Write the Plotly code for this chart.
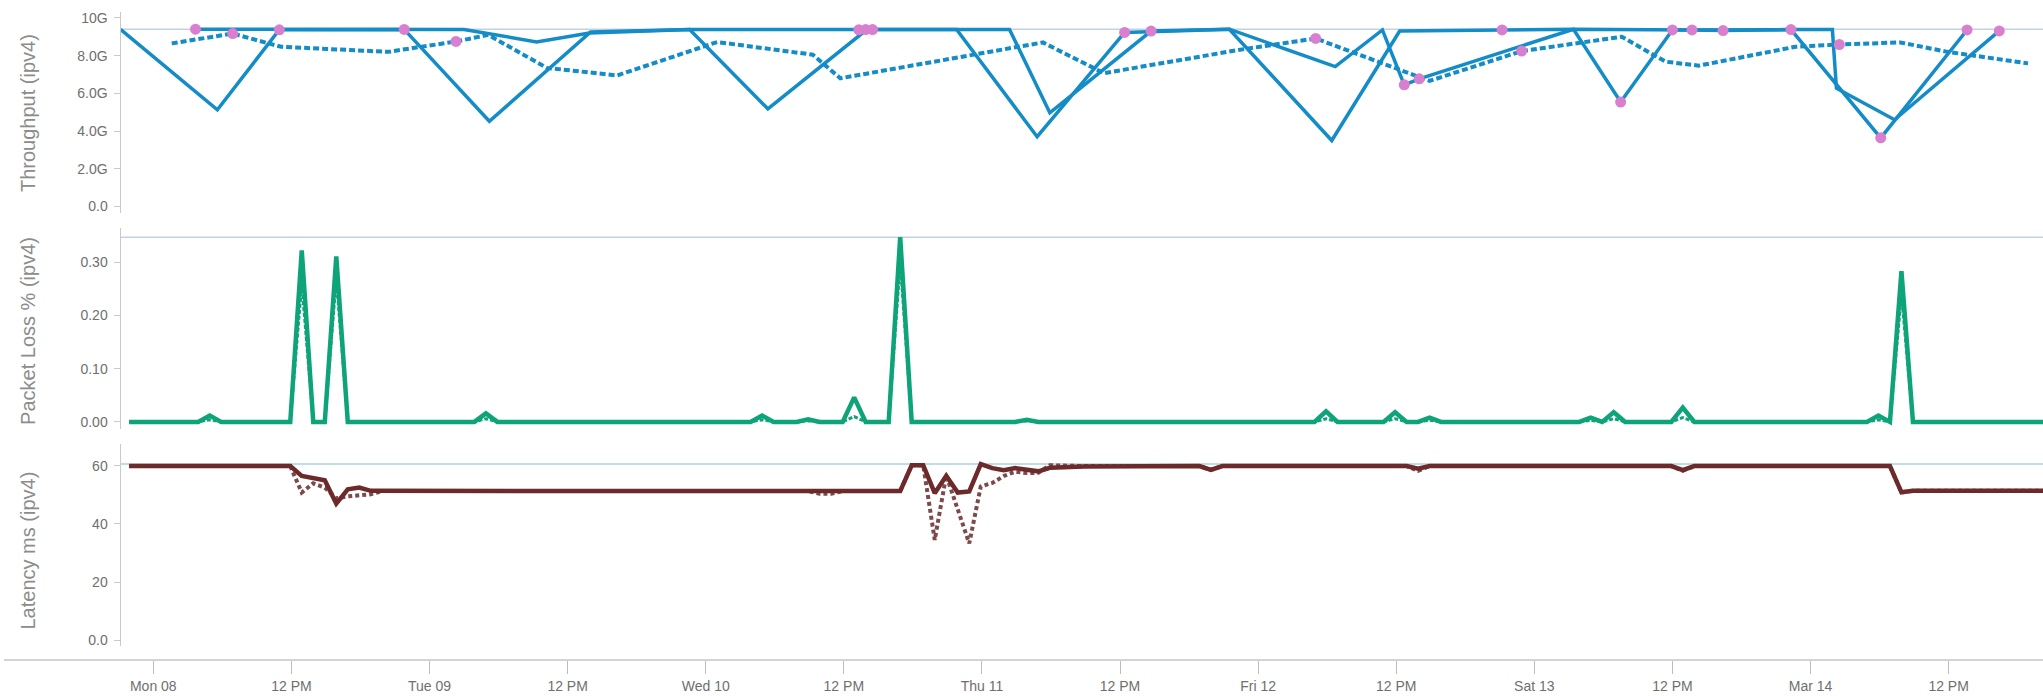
import plotly.graph_objects as go

W, H = 2043, 696

# ---------------- data ----------------
# Throughput, solid series 1 (Gbps)
tp1_time = ["2021-03-07 21:09", "2021-03-08 05:34", "2021-03-08 10:57", "2021-03-08 21:48",
            "2021-03-09 05:12", "2021-03-09 14:00", "2021-03-09 22:36", "2021-03-10 05:24",
            "2021-03-10 14:00", "2021-03-10 21:48", "2021-03-11 04:48", "2021-03-11 12:24",
            "2021-03-11 21:30", "2021-03-12 06:24", "2021-03-12 12:18", "2021-03-12 21:12",
            "2021-03-13 03:24", "2021-03-13 07:30", "2021-03-13 12:00", "2021-03-13 22:18",
            "2021-03-14 06:06", "2021-03-14 13:36"]
tp1_gbps = [9.39, 5.13, 9.37, 9.39, 4.52, 9.25, 9.39, 5.18, 9.38, 9.39, 3.70, 9.23,
            9.40, 3.50, 9.30, 9.36, 9.40, 5.54, 9.36, 9.38, 3.64, 9.36]

# Throughput, solid series 2 (Gbps)
tp2_time = ["2021-03-08 03:40", "2021-03-08 21:48", "2021-03-09 03:00", "2021-03-09 09:18",
            "2021-03-09 13:54", "2021-03-09 22:36", "2021-03-10 14:00", "2021-03-11 02:24",
            "2021-03-11 05:54", "2021-03-11 14:42", "2021-03-11 21:30", "2021-03-12 06:42",
            "2021-03-12 10:48", "2021-03-12 12:42", "2021-03-12 14:00", "2021-03-13 03:24",
            "2021-03-13 13:42", "2021-03-13 16:24", "2021-03-13 22:18", "2021-03-14 01:54",
            "2021-03-14 02:15", "2021-03-14 07:18", "2021-03-14 16:24"]
tp2_gbps = [9.40, 9.39, 9.39, 8.73, 9.20, 9.38, 9.38, 9.39, 4.97, 9.30, 9.40, 7.42,
            9.36, 6.45, 6.77, 9.40, 9.36, 9.33, 9.38, 9.38, 6.27, 4.60, 9.31]

# Throughput, dotted series (Gbps)
tp3_time = ["2021-03-08 01:36", "2021-03-08 06:54", "2021-03-08 11:06", "2021-03-08 20:24",
            "2021-03-09 02:18", "2021-03-09 05:06", "2021-03-09 10:12", "2021-03-09 16:18",
            "2021-03-10 01:00", "2021-03-10 09:18", "2021-03-10 11:42", "2021-03-11 05:18",
            "2021-03-11 10:36", "2021-03-11 22:18", "2021-03-12 05:00", "2021-03-12 14:54",
            "2021-03-12 22:54", "2021-03-13 07:36", "2021-03-13 11:24", "2021-03-13 14:18",
            "2021-03-13 22:42", "2021-03-14 02:30", "2021-03-14 07:48", "2021-03-14 11:54",
            "2021-03-14 18:54"]
tp3_gbps = [8.65, 9.17, 8.47, 8.20, 8.75, 9.10, 7.35, 6.95, 8.72, 8.05, 6.80, 8.70,
            7.07, 8.30, 8.91, 6.66, 8.24, 9.00, 7.68, 7.47, 8.47, 8.59, 8.70, 8.20, 7.59]

# Flagged throughput results (pink markers)
flag_time = ["2021-03-08 03:40", "2021-03-08 06:54", "2021-03-08 10:57", "2021-03-08 21:48",
             "2021-03-09 02:18", "2021-03-10 13:18", "2021-03-10 13:54", "2021-03-10 14:30",
             "2021-03-11 12:24", "2021-03-11 14:42", "2021-03-12 05:00", "2021-03-12 12:42",
             "2021-03-12 14:00", "2021-03-12 21:12", "2021-03-12 22:54", "2021-03-13 07:30",
             "2021-03-13 12:00", "2021-03-13 13:42", "2021-03-13 16:24", "2021-03-13 22:18",
             "2021-03-14 02:30", "2021-03-14 06:06", "2021-03-14 13:36", "2021-03-14 16:24"]
flag_gbps = [9.40, 9.17, 9.37, 9.39, 8.75, 9.37, 9.38, 9.38, 9.23, 9.30, 8.91, 6.45,
             6.77, 9.36, 8.24, 5.54, 9.36, 9.36, 9.33, 9.38, 8.59, 3.64, 9.36, 9.31]
tp_max = 9.40

# Packet loss % (solid and dotted)
pl_time = ["2021-03-07 21:54", "2021-03-08 03:54", "2021-03-08 04:54", "2021-03-08 05:54",
           "2021-03-08 11:54", "2021-03-08 12:54", "2021-03-08 13:54", "2021-03-08 14:54",
           "2021-03-08 15:54", "2021-03-08 16:54", "2021-03-09 03:54", "2021-03-09 04:54",
           "2021-03-09 05:54", "2021-03-10 03:54", "2021-03-10 04:54", "2021-03-10 05:54",
           "2021-03-10 07:54", "2021-03-10 08:54", "2021-03-10 09:54", "2021-03-10 11:54",
           "2021-03-10 12:54", "2021-03-10 13:54", "2021-03-10 15:54", "2021-03-10 16:54",
           "2021-03-10 17:54", "2021-03-11 02:54", "2021-03-11 03:54", "2021-03-11 04:54",
           "2021-03-12 04:54", "2021-03-12 05:54", "2021-03-12 06:54", "2021-03-12 10:54",
           "2021-03-12 11:54", "2021-03-12 12:54", "2021-03-12 13:54", "2021-03-12 14:54",
           "2021-03-12 15:54", "2021-03-13 03:54", "2021-03-13 04:54", "2021-03-13 05:54",
           "2021-03-13 06:54", "2021-03-13 07:54", "2021-03-13 11:54", "2021-03-13 12:54",
           "2021-03-13 13:54", "2021-03-14 04:54", "2021-03-14 05:54", "2021-03-14 06:54",
           "2021-03-14 07:54", "2021-03-14 08:54", "2021-03-14 20:30"]
pl_solid = [0, 0, 0.012, 0, 0, 0.322, 0, 0, 0.311, 0, 0, 0.016, 0, 0, 0.012, 0, 0, 0.005, 0,
            0, 0.046, 0, 0, 0.347, 0, 0, 0.004, 0, 0, 0.020, 0, 0, 0.018, 0, 0, 0.008, 0,
            0, 0.008, 0, 0.018, 0, 0, 0.027, 0, 0, 0.012, 0, 0.283, 0, 0]
pl_dotted = [0, 0, 0.004, 0, 0, 0.26, 0, 0, 0.27, 0, 0, 0.006, 0, 0, 0.004, 0, 0, 0.002, 0,
             0, 0.010, 0, 0, 0.30, 0, 0, 0.002, 0, 0, 0.006, 0, 0, 0.006, 0, 0, 0.003, 0,
             0, 0.003, 0, 0.006, 0, 0, 0.008, 0, 0, 0.004, 0, 0.24, 0, 0]
pl_max = 0.347

# Latency ms (solid and dotted)
lat1_time = ["2021-03-07 21:54", "2021-03-08 11:54", "2021-03-08 12:54", "2021-03-08 13:54",
             "2021-03-08 14:54", "2021-03-08 15:54", "2021-03-08 16:54", "2021-03-08 17:54",
             "2021-03-08 18:54", "2021-03-10 16:54", "2021-03-10 17:54", "2021-03-10 18:54",
             "2021-03-10 19:54", "2021-03-10 20:54", "2021-03-10 21:54", "2021-03-10 22:54",
             "2021-03-10 23:54", "2021-03-11 00:54", "2021-03-11 01:54", "2021-03-11 02:54",
             "2021-03-11 03:54", "2021-03-11 04:54", "2021-03-11 05:54", "2021-03-11 08:54",
             "2021-03-11 18:54", "2021-03-11 19:54", "2021-03-11 20:54", "2021-03-12 12:54",
             "2021-03-12 13:54", "2021-03-12 14:54", "2021-03-13 11:54", "2021-03-13 12:54",
             "2021-03-13 13:54", "2021-03-14 06:54", "2021-03-14 07:54", "2021-03-14 08:54",
             "2021-03-14 20:30"]
lat1_ms = [59.9, 59.9, 56.5, 55.9, 55.0, 47.0, 51.9, 52.5, 51.4, 51.3, 60.2, 60.2,
           50.6, 56.6, 50.8, 51.2, 60.6, 59.2, 58.5, 59.2, 58.8, 58.1, 59.3, 59.8,
           59.9, 58.6, 59.9, 59.9, 59.0, 59.9, 59.9, 58.5, 59.9, 59.9, 50.9, 51.4, 51.4]

lat2_time = ["2021-03-07 21:54", "2021-03-08 11:54", "2021-03-08 12:54", "2021-03-08 13:54",
             "2021-03-08 14:54", "2021-03-08 15:54", "2021-03-08 16:54", "2021-03-08 17:54",
             "2021-03-08 18:54", "2021-03-08 19:54", "2021-03-10 08:54", "2021-03-10 09:54",
             "2021-03-10 10:54", "2021-03-10 11:54", "2021-03-10 16:54", "2021-03-10 17:54",
             "2021-03-10 18:54", "2021-03-10 19:54", "2021-03-10 20:54", "2021-03-10 22:54",
             "2021-03-10 23:54", "2021-03-11 00:54", "2021-03-11 01:54", "2021-03-11 02:54",
             "2021-03-11 03:54", "2021-03-11 04:54", "2021-03-11 05:54", "2021-03-11 08:54",
             "2021-03-11 18:54", "2021-03-11 19:54", "2021-03-11 20:54", "2021-03-12 12:54",
             "2021-03-12 13:54", "2021-03-12 14:54", "2021-03-13 11:54", "2021-03-13 12:54",
             "2021-03-13 13:54", "2021-03-14 06:54", "2021-03-14 07:54", "2021-03-14 08:54",
             "2021-03-14 20:30"]
lat2_ms = [59.9, 59.9, 50.8, 54.0, 52.5, 48.8, 49.5, 49.8, 50.2, 51.3, 51.3, 50.4,
           50.4, 51.3, 51.3, 60.2, 60.2, 34.5, 56.7, 33.3, 52.9, 54.1, 56.5, 58.0,
           57.5, 57.6, 60.2, 59.9, 59.9, 58.6, 59.9, 59.9, 58.3, 59.9, 59.9, 58.3,
           59.9, 59.9, 50.9, 51.4, 51.4]
lat_max = 60.6

# axes text
x_tickvals = ["2021-03-08 00:00", "2021-03-08 12:00", "2021-03-09 00:00", "2021-03-09 12:00",
              "2021-03-10 00:00", "2021-03-10 12:00", "2021-03-11 00:00", "2021-03-11 12:00",
              "2021-03-12 00:00", "2021-03-12 12:00", "2021-03-13 00:00", "2021-03-13 12:00",
              "2021-03-14 00:00", "2021-03-14 12:00"]
x_ticktext = ["Mon 08", "12 PM", "Tue 09", "12 PM", "Wed 10", "12 PM", "Thu 11", "12 PM",
              "Fri 12", "12 PM", "Sat 13", "12 PM", "Mar 14", "12 PM"]
tp_tickvals = [0, 2, 4, 6, 8, 10]
tp_ticktext = ["0.0", "2.0G", "4.0G", "6.0G", "8.0G", "10G"]
pl_tickvals = [0, 0.1, 0.2, 0.3]
pl_ticktext = ["0.00", "0.10", "0.20", "0.30"]
lat_tickvals = [0, 20, 40, 60]
lat_ticktext = ["0.0", "20", "40", "60"]
titles = ["Throughput (ipv4)", "Packet Loss % (ipv4)", "Latency ms (ipv4)"]
x_range = ["2021-03-07 21:09", "2021-03-14 20:12"]

# ---------------- styling ----------------
BLUE = "#138cc7"
PINK = "#d880cf"
GREEN = "#0ea47a"
MAROON = "#6d2a2b"
MAROON_D = "#7c4a4b"
FONT = "Liberation Sans"
TICKC = "#6f6f6f"
AXC = "#c9c9c9"


def py(px):
    return 1 - px / H


fig = go.Figure()

# throughput
fig.add_trace(go.Scatter(x=tp3_time, y=tp3_gbps, mode="lines", xaxis="x", yaxis="y",
                         line=dict(color=BLUE, width=4, dash="6px,3px")))
fig.add_trace(go.Scatter(x=tp1_time, y=tp1_gbps, mode="lines", xaxis="x", yaxis="y",
                         line=dict(color=BLUE, width=3.5)))
fig.add_trace(go.Scatter(x=tp2_time, y=tp2_gbps, mode="lines", xaxis="x", yaxis="y",
                         line=dict(color=BLUE, width=3.5)))
fig.add_trace(go.Scatter(x=flag_time, y=flag_gbps, mode="markers", xaxis="x", yaxis="y",
                         marker=dict(color=PINK, size=11, line=dict(width=0))))
# packet loss
fig.add_trace(go.Scatter(x=pl_time, y=pl_solid, mode="lines", xaxis="x2", yaxis="y2",
                         line=dict(color=GREEN, width=4.5)))
fig.add_trace(go.Scatter(x=pl_time, y=pl_dotted, mode="lines", xaxis="x2", yaxis="y2",
                         line=dict(color=GREEN, width=3, dash="4px,2px")))
# latency
fig.add_trace(go.Scatter(x=lat2_time, y=lat2_ms, mode="lines", xaxis="x3", yaxis="y3",
                         line=dict(color=MAROON_D, width=4, dash="4px,3px")))
fig.add_trace(go.Scatter(x=lat1_time, y=lat1_ms, mode="lines", xaxis="x3", yaxis="y3",
                         line=dict(color=MAROON, width=4.5)))

x_dom = [120.5 / W, 1]
xcommon = dict(type="date", range=x_range, domain=x_dom, showgrid=False, zeroline=False,
               showline=False)
ycommon = dict(showgrid=False, zeroline=False, showline=True, linecolor=AXC, linewidth=1,
               ticks="outside", ticklen=6, tickcolor=AXC, tickwidth=1,
               tickfont=dict(family=FONT, size=14, color=TICKC), ticklabelstandoff=3)

fig.update_layout(
    width=W, height=H, margin=dict(l=0, r=0, t=0, b=0),
    paper_bgcolor="white", plot_bgcolor="white", showlegend=False,
    xaxis=dict(**xcommon, anchor="y", showticklabels=False, ticks=""),
    xaxis2=dict(**xcommon, anchor="y2", showticklabels=False, ticks=""),
    xaxis3=dict(**xcommon, anchor="free", position=py(661.7), ticks="outside", ticklen=13,
                tickcolor="#bdbdbd", tickwidth=1, tickvals=x_tickvals, ticktext=x_ticktext,
                tickfont=dict(family=FONT, size=14, color=TICKC)),
    yaxis=dict(**ycommon, domain=[py(212), py(10)], range=[-0.332, 10.316],
               tickvals=tp_tickvals, ticktext=tp_ticktext, anchor="x"),
    yaxis2=dict(**ycommon, domain=[py(429), py(227)], range=[-0.0125, 0.3648],
                tickvals=pl_tickvals, ticktext=pl_ticktext, anchor="x2"),
    yaxis3=dict(**ycommon, domain=[py(648), py(444.5)], range=[-2.05, 67.52],
                tickvals=lat_tickvals, ticktext=lat_ticktext, anchor="x3"),
)

# max reference lines
for xr, yr, val, col in [("x", "y", tp_max, "#c3d2df"), ("x2", "y2", pl_max, "#c3d2df"),
                         ("x3", "y3", lat_max, "#a8d2dc")]:
    fig.add_shape(type="line", xref=f"{xr} domain", x0=0, x1=1, yref=yr, y0=val, y1=val,
                  line=dict(color=col, width=1.5), layer="below")

# bottom axis line spanning the page
fig.add_shape(type="line", xref="paper", yref="paper", x0=4 / W, x1=1, y0=py(661.7),
              y1=py(661.7), line=dict(color="#c4c4c4", width=1.5))

# rotated y titles
for t, yc in zip(titles, [111.7, 330.8, 551.7]):
    fig.add_annotation(text=t, xref="paper", yref="paper", x=28 / W, y=py(yc),
                       textangle=-90, showarrow=False, xanchor="center", yanchor="middle",
                       font=dict(family=FONT, size=20, color="#8c8c8c"))

fig.write_html("out.html", config={"displayModeBar": False},
               post_script="document.body.style.margin='0';document.body.style.overflow='hidden';")
